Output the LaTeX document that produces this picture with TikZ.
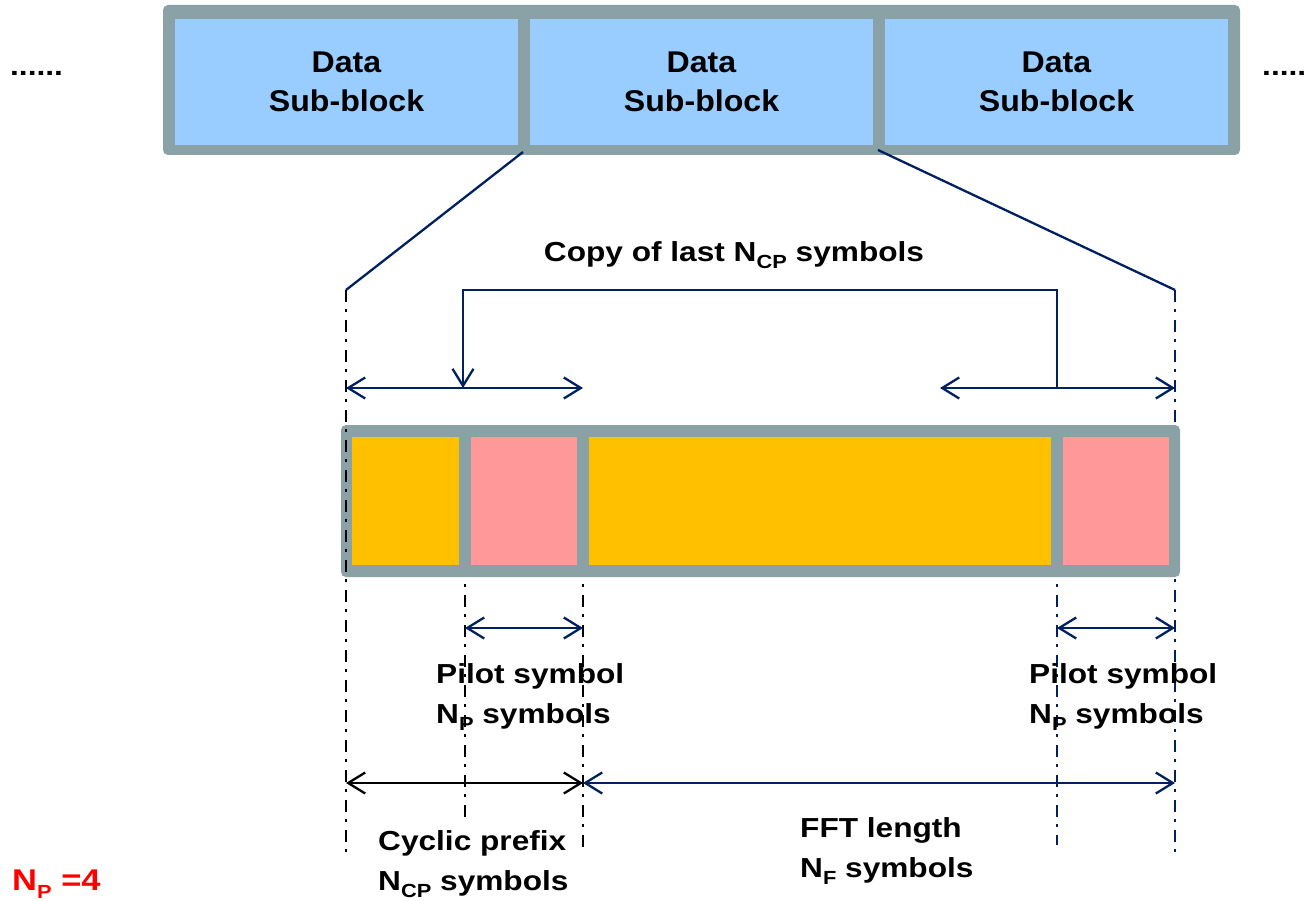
\documentclass[tikz,border=0pt]{standalone}
\usepackage{fontspec}
\setmainfont{Liberation Sans}
\newfontfamily\lblfont{Liberation Sans}[FakeStretch=1.15]
\newfontfamily\datafont{Liberation Sans}[FakeStretch=1.07]
\usetikzlibrary{arrows.meta}
\definecolor{frameg}{RGB}{138,162,165}
\definecolor{cellblue}{RGB}{153,204,255}
\definecolor{cellorange}{RGB}{255,192,0}
\definecolor{cellpink}{RGB}{255,153,153}
\definecolor{navy}{RGB}{0,32,96}
\newcommand\lowsub[1]{\raisebox{-0.25em}{\fontsize{19}{19}\selectfont #1}}
\tikzset{
  datacell/.style={fill=cellblue, draw=none, inner sep=0, minimum width=343pt, minimum height=126pt,
    align=center, font=\datafont\bfseries\fontsize{30}{39.5}\selectfont},
  barcell/.style={draw=none, inner sep=0, minimum height=128pt},
  lbl/.style={inner sep=0, align=left, font=\lblfont\bfseries\fontsize{27.5}{40}\selectfont},
  dashdot/.style={line width=2.3pt, dash pattern=on 12pt off 7pt on 3pt off 8pt},
  conn/.style={line width=2.3pt, navy},
  dim/.style={line width=2.3pt, {Straight Barb[length=17pt,width=21pt]}-{Straight Barb[length=17pt,width=21pt]}},
  tip/.style={line width=2.3pt, -{Straight Barb[length=17pt,width=21pt]}},
}
\begin{document}
\begin{tikzpicture}[x=1pt,y=-1pt]
\useasboundingbox (0,0) rectangle (1306,901);
% top block
\fill[frameg, rounded corners=5pt] (163,5) rectangle (1240,155);
\node[datacell] (d1) at (346.5,82) {Data\\Sub-block};
\node[datacell] (d2) at (701.5,82) {Data\\Sub-block};
\node[datacell] (d3) at (1056.5,82) {Data\\Sub-block};
\node[lbl, anchor=base west] (dl) at (10,76) {......};
\node[lbl, anchor=base west] (dr) at (1262,76) {.....};
% coordinates
\coordinate (zl) at (523,152);
\coordinate (zr) at (878,150);
\coordinate (a0) at (346,290);
\coordinate (a4) at (1175,290);
\coordinate (b0) at (346,855);
\coordinate (b4) at (1175,855);
\coordinate (t1) at (465,565);
\coordinate (t2) at (583,565);
\coordinate (t3) at (1057,565);
\coordinate (e1) at (465,822);
\coordinate (e2) at (583,848);
\coordinate (e3) at (1057,845);
% zoom lines
\draw[conn] (zl) -- (a0);
\draw[conn] (zr) -- (a4);
% dash-dot guides behind bar
\draw[dashdot, navy] (a4) -- (b4);
\draw[dashdot, black] (t1) -- (e1);
\draw[dashdot, black] (t2) -- (e2);
\draw[dashdot, navy] (t3) -- (e3);
% bar
\fill[frameg, rounded corners=5pt] (341,425) rectangle (1180,577);
\node[barcell, fill=cellorange, minimum width=107pt] (o1) at (405.5,501) {};
\node[barcell, fill=cellpink, minimum width=106pt] (p1) at (524,501) {};
\node[barcell, fill=cellorange, minimum width=462pt] (o2) at (820,501) {};
\node[barcell, fill=cellpink, minimum width=106pt] (p2) at (1116,501) {};
\draw[dashdot, black] (a0) -- (b0);
% upper arrows
\coordinate (u0) at (346,388);
\coordinate (u1) at (583,388);
\coordinate (u2) at (940,388);
\coordinate (u3) at (1175,388);
\coordinate (cs) at (1057,388);
\coordinate (ce) at (463,388);
\draw[dim, navy] (u0) -- (u1);
\draw[dim, navy] (u2) -- (u3);
\draw[tip, navy] (cs) -- (1057,290) -- (463,290) -- (ce);
\node[lbl] (copy) at (734,255) {Copy of last N\lowsub{CP} symbols};
% pilot arrows
\coordinate (q1) at (465,628);
\coordinate (q2) at (583,628);
\coordinate (q3) at (1057,628);
\coordinate (q4) at (1175,628);
\draw[dim, navy] (q1) -- (q2);
\draw[dim, navy] (q3) -- (q4);
\node[lbl, anchor=west] (pil1) at (436,697) {Pilot symbol\\N\lowsub{P} symbols};
\node[lbl, anchor=west] (pil2) at (1029,697) {Pilot symbol\\N\lowsub{P} symbols};
% bottom arrows
\coordinate (w0) at (346,783);
\coordinate (w1) at (583,783);
\coordinate (w2) at (1175,783);
\draw[dim, black] (w0) -- (w1);
\draw[dim, navy] (w1) -- (w2);
\node[lbl, anchor=west] (cp) at (378,864) {Cyclic prefix\\N\lowsub{CP} symbols};
\node[lbl, anchor=west] (fft) at (800,851) {FFT length\\N\lowsub{F} symbols};
\node[lbl, anchor=west, text=red, font=\lblfont\bfseries\fontsize{30}{36}\selectfont] (np) at (12,884) {N\lowsub{P} =4};
\end{tikzpicture}
\end{document}
